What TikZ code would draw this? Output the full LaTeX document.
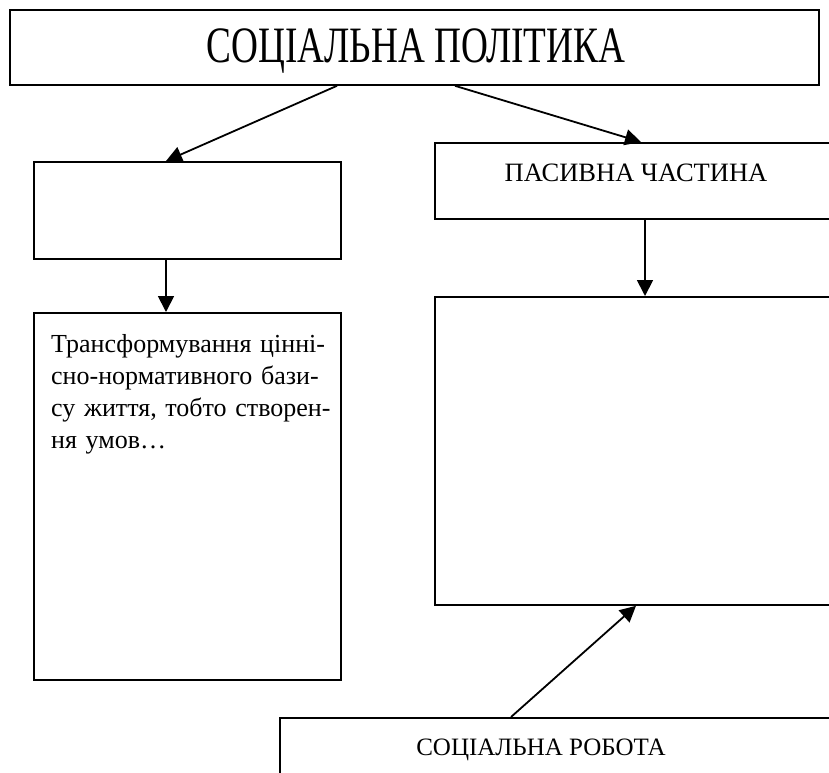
\documentclass[tikz,border=0pt]{standalone}
\usepackage{fontspec}
\usepackage{graphicx}
\setmainfont{Liberation Serif}
\newfontfamily\tightfont[WordSpace=0.6]{Liberation Serif}
\usetikzlibrary{arrows.meta}
\tikzset{
  box/.style={draw=black, line width=1.8pt, rectangle, inner sep=0pt, anchor=north west},
  arr/.style={draw=black, line width=1.8pt, -{Triangle[length=16pt,width=16pt]}},
  lbl/.style={inner sep=0pt, text=black}
}
\begin{document}
\begin{tikzpicture}[x=1pt,y=-1pt]
\useasboundingbox (0,0) rectangle (829,772);
\clip (0,0) rectangle (829,772);
\fill[white] (0,0) rectangle (829,772);
% boxes
\node[box, minimum width=809pt, minimum height=75pt] (title) at (9,9) {};
\node[lbl, anchor=base] (titletext) at (416,62) {\scalebox{0.73}[1]{\fontsize{51}{51}\selectfont СОЦІАЛЬНА ПОЛІТИКА}};
\node[box, minimum width=307pt, minimum height=97pt] (lt) at (33,161) {};
\node[box, minimum width=307pt, minimum height=367pt] (lb) at (33,312) {};
\node[box, minimum width=420pt, minimum height=76pt] (pas) at (434,142) {};
\node[lbl, anchor=base] (pastext) at (636,181) {\fontsize{26.5}{26.5}\selectfont ПАСИВНА ЧАСТИНА};
\node[box, minimum width=420pt, minimum height=308pt] (rb) at (434,296) {};
\node[box, minimum width=600pt, minimum height=120pt] (sr) at (279,717) {};
\node[lbl, anchor=base] (srtext) at (541,755) {\fontsize{25}{25}\selectfont СОЦІАЛЬНА РОБОТА};
\node[lbl, anchor=north west, text width=300pt, align=left, font=\tightfont\fontsize{26}{32.2}\selectfont] (lbtext) at (51,334)
  {Трансформування цінні-\\сно-нормативного бази-\\су життя, тобто створен-\\ня умов…};
% arrows
\draw[arr] ([xshift=328pt]title.south west) -- ([xshift=133pt]lt.north west);
\draw[arr] ([xshift=446pt]title.south west) -- ([xshift=207pt]pas.north west);
\draw[arr] ([xshift=133pt]lt.south west) -- ([xshift=133pt]lb.north west);
\draw[arr] ([xshift=211pt]pas.south west) -- ([xshift=211pt]rb.north west);
\draw[arr] ([xshift=232pt]sr.north west) -- ([xshift=202pt]rb.south west);
\end{tikzpicture}
\end{document}
